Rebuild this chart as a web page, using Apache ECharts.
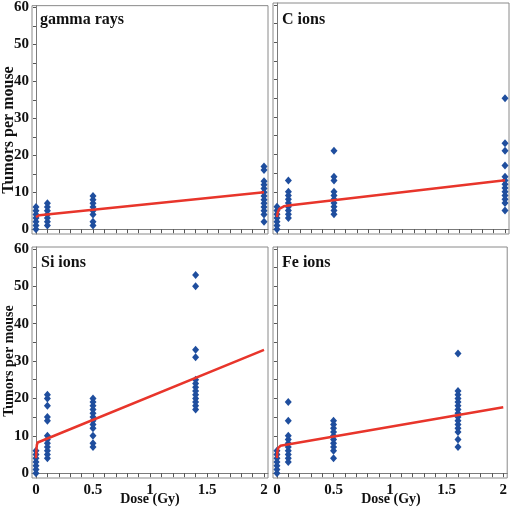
<!DOCTYPE html>
<html><head><meta charset="utf-8">
<script src="https://cdn.jsdelivr.net/npm/echarts@6/dist/echarts.min.js"></script>
<style>html,body{margin:0;padding:0;background:#fff}#c{width:510px;height:514px}</style>
</head><body><div id="c"></div>
<script>
// ---- data ----
const panelTitles = ['gamma rays', 'C ions', 'Si ions', 'Fe ions'];
const gammaDoses = [0, 0.1, 0.5, 2];
const gammaTumors = [
  [0,1,2,3,4,5,6],
  [1,2,3,4,5,6,7],
  [1,2,4,5,6,7,8,9],
  [2,4,5,6,7,8,9,10,11,12,13,16,17]
];
const cDoses = [0, 0.1, 0.5, 2];
const cTumors = [
  [0,1,2,3,4,5,6],
  [3,4,5,6,7,8,9,10,13],
  [4,5,6,7,8,9,10,13,14,21],
  [5,7,8,9,10,11,12,13,14,17,21,23,35]
];
const siDoses = [0, 0.1, 0.5, 1.4];
const siTumors = [
  [0,1,2,3,4,5,6],
  [4,5,6,7,8,9,10,14,15,18,20,21],
  [7,8,10,12,13,14,15,16,17,18,19,20],
  [17,18,19,20,21,22,23,24,25,31,33,50,53]
];
const feDoses = [0, 0.1, 0.5, 1.6];
const feTumors = [
  [0,1,2,3,4,5,6],
  [3,4,5,6,7,8,9,10,14,19],
  [4,6,7,8,9,10,11,12,13,14],
  [7,9,11,12,13,14,15,16,17,18,19,20,21,22,32]
];
// fitted curves (dose, tumors per mouse)
const gammaFit = [[0,3.3],[0.03,3.8],[2,10]];
const cFit = [[0,3.2],[0.005,4.2],[0.01,4.8],[0.02,5.4],[0.035,5.8],[0.06,6.1],[0.1,6.3],[2,13.1]];
const siFit = [[0,4],[0.003,6],[0.008,7.6],[0.015,8.2],[0.03,8.6],[2,33]];
const feFit = [[0,4],[0.003,5.6],[0.008,6.6],[0.015,7.0],[0.03,7.3],[2,17.6]];
// axis ticks / labels
const yLabelValues = [0,10,20,30,40,50,60];
const yTickValues = [0,5,10,15,20,25,30,35,40,45,50,55,60];
const xLabelValues = [0,0.5,1,1.5,2];
const xTickValues = [0,0.1,0.2,0.3,0.4,0.5,0.6,0.7,0.8,0.9,1,1.1,1.2,1.3,1.4,1.5,1.6,1.7,1.8,1.9,2];
const xAxisTitle = 'Dose (Gy)';
const yAxisTitle = 'Tumors per mouse';

// ---- chart ----
const FONT = '"Liberation Serif", "Times New Roman", serif';
const chart = echarts.init(document.getElementById('c'));
function toPoints(doses, tumors) {
  const pts = [];
  doses.forEach((d, i) => tumors[i].forEach(v => pts.push([d, v])));
  return pts;
}
const panels = [
  {doses: gammaDoses, tumors: gammaTumors, fit: gammaFit},
  {doses: cDoses, tumors: cTumors, fit: cFit},
  {doses: siDoses, tumors: siTumors, fit: siFit},
  {doses: feDoses, tumors: feTumors, fit: feFit}
];
const gridPos = [
  {left: 32, top: 3}, {left: 273, top: 3}, {left: 32, top: 247}, {left: 273, top: 247}
];
const grids = gridPos.map(p => ({left: p.left, top: p.top, width: 236, height: 231,
  show: true, borderColor: '#8a8a8a', borderWidth: 1, backgroundColor: 'transparent'}));
const xAxes = gridPos.map((p, i) => ({
  type: 'value', gridIndex: i, min: -0.035, max: 2.035,
  axisLine: {show: true, lineStyle: {color: '#7a7a7a', width: 1}},
  axisTick: {show: true, customValues: xTickValues, length: 4, lineStyle: {color: '#555'}},
  axisLabel: {show: i >= 2, customValues: xLabelValues, margin: 5,
    fontFamily: FONT, fontWeight: 'bold', fontSize: 15, color: '#111'},
  splitLine: {show: false}
}));
const yAxes = gridPos.map((p, i) => ({
  type: 'value', gridIndex: i, min: -1.3, max: 60.5,
  axisLine: {show: true, lineStyle: {color: '#7a7a7a', width: 1}},
  axisTick: {show: true, customValues: yTickValues, length: 3, lineStyle: {color: '#555'}},
  axisLabel: {show: i % 2 === 0, customValues: yLabelValues, margin: 3,
    fontFamily: FONT, fontWeight: 'bold', fontSize: 15, color: '#111'},
  splitLine: {show: false}
}));
const series = [];
panels.forEach((pn, i) => {
  series.push({type: 'scatter', xAxisIndex: i, yAxisIndex: i, data: toPoints(pn.doses, pn.tumors),
    symbol: 'diamond', symbolSize: [7, 8], itemStyle: {color: '#1f4e9e', opacity: 1}, z: 2});
  series.push({type: 'line', xAxisIndex: i, yAxisIndex: i, data: pn.fit, showSymbol: false,
    smooth: false, lineStyle: {color: '#e8352b', width: 2.5}, z: 3});
});
const titlePos = [[40, 20], [282, 20], [41, 263], [282, 263]];
const graphics = [];
titlePos.forEach((tp, i) => graphics.push({type: 'text', x: tp[0], y: tp[1],
  style: {text: panelTitles[i], font: 'bold 16px ' + FONT, fill: '#111', verticalAlign: 'middle', align: 'left'}}));
graphics.push({type: 'text', x: 9, y: 130, rotation: Math.PI / 2,
  style: {text: yAxisTitle, font: 'bold 16px ' + FONT, fill: '#111', align: 'center', verticalAlign: 'middle'}});
graphics.push({type: 'text', x: 9, y: 361, rotation: Math.PI / 2,
  style: {text: yAxisTitle, font: 'bold 14px ' + FONT, fill: '#111', align: 'center', verticalAlign: 'middle'}});
graphics.push({type: 'text', x: 150, y: 499,
  style: {text: xAxisTitle, font: 'bold 14px ' + FONT, fill: '#111', align: 'center', verticalAlign: 'middle'}});
graphics.push({type: 'text', x: 391, y: 499,
  style: {text: xAxisTitle, font: 'bold 14px ' + FONT, fill: '#111', align: 'center', verticalAlign: 'middle'}});
chart.setOption({
  animation: false,
  backgroundColor: '#fff',
  grid: grids, xAxis: xAxes, yAxis: yAxes, series: series, graphic: graphics
});
</script></body></html>
